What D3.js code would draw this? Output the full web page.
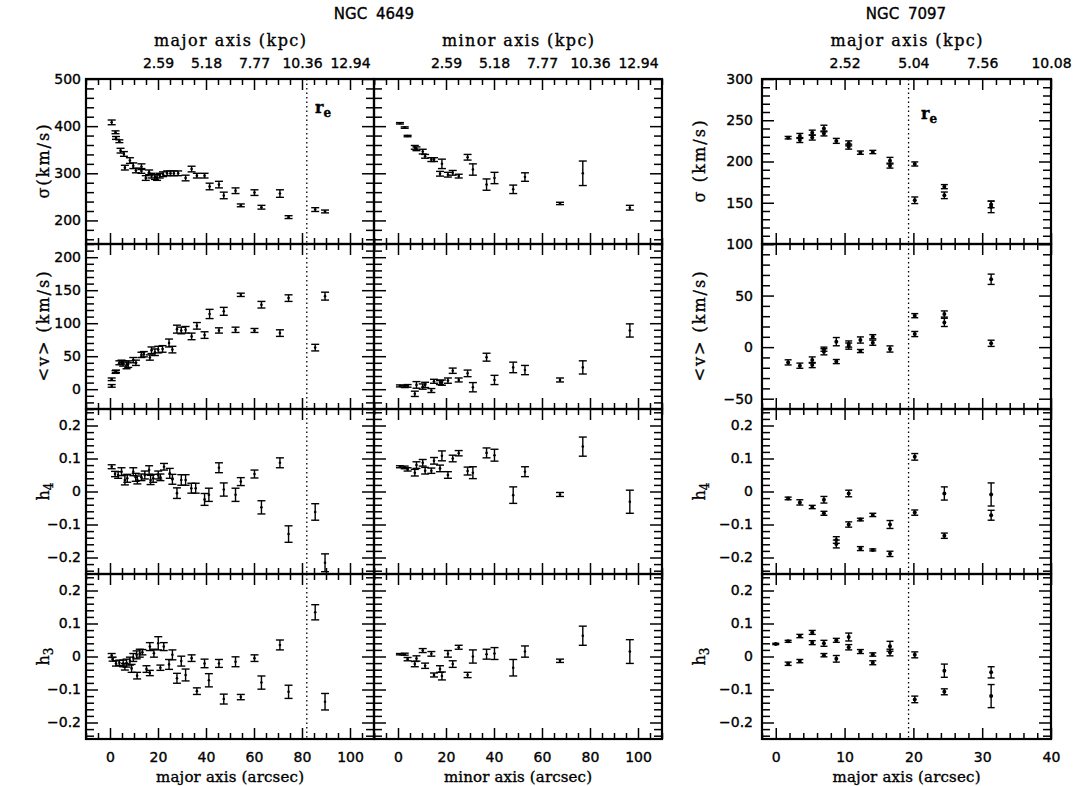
<!DOCTYPE html>
<html>
<head>
<meta charset="utf-8">
<script src="https://cdn.jsdelivr.net/npm/d3@7"></script>
<style>
body { margin: 0; background: #fff; }
text { fill: #000; stroke: #000; stroke-width: 0.35px; }
</style>
</head>
<body>
<script>
// ---- NGC 4649, major axis ----
var majSigR = [0.7, 2.3, 2.5, 3.9, 4.4, 5.8, 6.2, 8.3, 9.7, 10.8, 13.1, 13.1, 14.9, 16.3, 17.3, 18.7, 19.6, 20.7, 22.1, 23.8, 25.2, 26.6, 28.4, 31.5, 34.0, 36.2, 39.4, 41.5, 45.4, 47.4, 52.3, 54.5, 60.2, 63.1, 70.8, 74.4, 85.5, 89.6];
var majSig  = [408, 387, 375, 368, 348, 341, 312, 327, 316, 306, 314, 305, 290, 302, 295, 292, 291, 295, 298, 300, 300, 300, 300, 290, 309, 295, 295, 272, 276, 253, 263, 232, 259, 228, 257, 207, 223, 219];
var majSigE = [5, 3, 3, 3, 5, 5, 5, 6, 6, 5, 6, 5, 5, 5, 5, 5, 6, 5, 5, 5, 5, 5, 5, 6, 6, 5, 5, 7, 7, 7, 6, 3, 6, 4, 8, 3, 4, 3];

var majVR = [0.7, 0.7, 2.3, 2.5, 3.9, 4.8, 5.5, 6.9, 7.6, 9.7, 10.8, 13.1, 14.1, 16.6, 17.3, 18.7, 20.1, 21.9, 24.6, 26.0, 27.9, 29.7, 31.5, 34.0, 36.2, 39.4, 41.5, 45.4, 47.4, 52.3, 54.5, 60.2, 63.1, 70.8, 74.4, 85.5, 89.6];
var majV  = [15, 5, 26, 27, 40, 41, 39, 36, 38, 44, 40, 52, 53, 48, 59, 56, 60, 61, 70, 60, 91, 89, 90, 80, 96, 82, 114, 89, 118, 90, 143, 89, 128, 85, 138, 63, 141];
var majVE = [2, 2, 2, 2, 3, 3, 4, 5, 5, 4, 4, 4, 4, 4, 5, 5, 5, 5, 6, 5, 6, 5, 5, 5, 5, 5, 7, 4, 6, 4, 2.5, 3, 5, 5, 5, 5, 6];

var majH4R = [0.7, 2.1, 3.4, 4.8, 6.2, 7.2, 9.7, 10.7, 11.4, 13.1, 14.5, 16.3, 16.9, 18.0, 20.1, 21.0, 22.5, 24.9, 26.0, 27.9, 29.7, 31.5, 33.9, 35.7, 39.4, 41.2, 45.4, 47.4, 52.3, 54.5, 60.2, 63.1, 70.8, 74.4, 85.5, 89.6];
var majH4  = [0.075, 0.053, 0.050, 0.060, 0.035, 0.040, 0.060, 0.043, 0.035, 0.043, 0.050, 0.065, 0.035, 0.040, 0.050, 0.043, 0.075, 0.055, 0.037, -0.005, 0.035, 0.035, 0.010, 0.010, -0.024, -0.010, 0.072, 0.006, -0.010, 0.030, 0.053, -0.048, 0.087, -0.129, -0.062, -0.216];
var majH4E = [0.006, 0.008, 0.01, 0.012, 0.015, 0.012, 0.012, 0.012, 0.012, 0.01, 0.012, 0.013, 0.014, 0.012, 0.012, 0.01, 0.01, 0.015, 0.015, 0.016, 0.016, 0.016, 0.015, 0.015, 0.018, 0.02, 0.015, 0.02, 0.02, 0.012, 0.012, 0.02, 0.015, 0.025, 0.025, 0.027];

var majH3R = [0.7, 1.1, 2.5, 3.9, 5.5, 6.2, 6.9, 8.3, 9.0, 9.7, 11.1, 11.3, 12.4, 13.5, 15.2, 16.6, 16.6, 18.3, 20.1, 21.0, 22.4, 24.6, 26.0, 27.9, 29.7, 31.5, 34.0, 36.2, 39.4, 41.2, 45.4, 47.4, 52.3, 54.5, 60.2, 63.1, 70.8, 74.4, 85.5, 89.6];
var majH3  = [0.003, -0.008, -0.021, -0.019, -0.021, -0.031, -0.020, -0.014, -0.036, -0.003, 0.005, -0.058, 0.010, 0.013, -0.038, -0.050, 0.030, 0.010, 0.040, -0.034, 0.030, -0.024, 0.005, -0.066, -0.014, -0.056, -0.005, -0.105, -0.021, -0.072, -0.021, -0.129, -0.016, -0.123, -0.005, -0.079, 0.035, -0.107, 0.134, -0.137];
var majH3E = [0.006, 0.006, 0.008, 0.008, 0.01, 0.01, 0.012, 0.012, 0.012, 0.012, 0.012, 0.01, 0.012, 0.008, 0.01, 0.008, 0.012, 0.012, 0.02, 0.008, 0.012, 0.015, 0.015, 0.015, 0.015, 0.018, 0.01, 0.01, 0.013, 0.02, 0.012, 0.015, 0.015, 0.008, 0.01, 0.02, 0.015, 0.02, 0.023, 0.025];

// ---- NGC 4649, minor axis ----
var minR   = [0.8, 2.8, 4.0, 7.0, 7.7, 10.3, 11.3, 13.9, 15.0, 17.5, 18.3, 20.8, 22.8, 25.3, 29.0, 31.2, 36.9, 40.2, 48.0, 52.9, 67.5, 77.0, 96.6];
var minSig = [406, 397, 379, 355, 352, 346, 336, 329, 329, 299, 320, 297, 301, 294, 334, 308, 276, 290, 266, 292, 236, 300, 227];
var minSigE = [1.5, 1.5, 1.5, 4, 4, 5, 4, 4, 4, 5, 10, 5, 5, 4, 6, 12, 12, 12, 9, 9, 2.5, 26, 5];
var minV   = [5, 4, 5, -7, 6.5, 4, 6.5, -2, 12, 10, 10, 13, 28, 14, 24, 3, 48.5, 14, 33, 29, 14, 33, 89];
var minVE  = [1.5, 1.5, 2, 4, 5, 4, 4, 3, 3, 3, 4, 4, 4, 3, 5, 7, 6, 7, 8, 7, 3, 10, 10];
var minH4  = [0.075, 0.073, 0.067, 0.057, 0.08, 0.087, 0.063, 0.063, 0.093, 0.07, 0.108, 0.05, 0.1, 0.116, 0.062, 0.057, 0.117, 0.11, -0.011, 0.06, -0.009, 0.136, -0.031];
var minH4E = [0.003, 0.004, 0.005, 0.01, 0.01, 0.01, 0.01, 0.008, 0.01, 0.01, 0.015, 0.01, 0.01, 0.008, 0.012, 0.018, 0.015, 0.018, 0.025, 0.015, 0.006, 0.029, 0.035];
var minH3  = [0.007, 0.007, -0.008, -0.023, -0.006, 0.018, -0.028, 0.008, -0.056, -0.038, -0.059, 0.008, -0.023, 0.028, -0.056, 0.0, 0.007, 0.009, -0.034, 0.015, -0.013, 0.063, 0.015];
var minH3E = [0.002, 0.003, 0.005, 0.008, 0.008, 0.006, 0.008, 0.007, 0.006, 0.01, 0.012, 0.01, 0.01, 0.006, 0.008, 0.02, 0.015, 0.018, 0.025, 0.017, 0.005, 0.029, 0.036];

// ---- NGC 7097, major axis (null = no point) ----
var n7R    = [0, 1.8, 1.8, 3.5, 3.5, 5.3, 5.3, 7.0, 7.0, 8.8, 8.8, 10.6, 10.6, 12.3, 12.3, 14.1, 14.1, 16.6, 16.6, 20.2, 20.2, 24.5, 24.5, 31.3, 31.3];
var n7Sig  = [null, 228.9, null, 226, 231, 229, 235, 240, 234, 225, null, 222, 218, 210.7, null, 211.5, null, 201, 195, 197, 153, 169.5, 159, 148, 145];
var n7SigE = [0, 1.5, 0, 3, 3, 3, 3, 4, 3, 3, 0, 3, 3, 2, 0, 2, 0, 4, 3, 2.5, 4, 2.5, 4, 4, 7];
var n7V    = [null, -14.8, null, -18, null, -12.5, -17.4, -4.5, -2, 5.3, -14, 1, 3, 6.9, -3.8, 10.1, 4.3, -1.8, null, 30.5, 12.7, 32.1, 24, 65.8, 3.7];
var n7VE   = [0, 2.5, 0, 2.5, 0, 3, 2.5, 3, 2, 4, 2, 3, 3, 3, 1.5, 2, 2.5, 3, 0, 2, 2.5, 3, 4, 5, 3];
var n7H4   = [null, -0.021, null, -0.033, null, -0.047, null, -0.025, -0.066, -0.147, -0.159, -0.006, -0.1, -0.085, -0.173, -0.071, -0.177, -0.1, -0.189, 0.105, -0.064, -0.006, -0.134, -0.009, -0.072];
var n7H4E  = [0, 0.004, 0, 0.008, 0, 0.005, 0, 0.01, 0.006, 0.01, 0.012, 0.01, 0.008, 0.004, 0.006, 0.005, 0.003, 0.012, 0.008, 0.01, 0.008, 0.02, 0.008, 0.035, 0.015];
var n7H3   = [0.038, 0.046, -0.022, 0.062, -0.014, 0.073, 0.042, 0.04, 0.004, 0.049, -0.007, 0.059, 0.028, 0.015, null, 0.006, -0.019, 0.031, 0.012, 0.005, -0.13, -0.043, -0.107, -0.048, -0.12];
var n7H3E  = [0.002, 0.003, 0.005, 0.005, 0.005, 0.006, 0.006, 0.009, 0.005, 0.006, 0.01, 0.012, 0.008, 0.006, 0, 0.005, 0.006, 0.015, 0.01, 0.009, 0.01, 0.02, 0.009, 0.017, 0.035];

// tick labels
var kpc4649 = ['2.59', '5.18', '7.77', '10.36', '12.94'];
var kpcAt4649 = [20, 40, 60, 80, 100];
var kpc7097 = ['2.52', '5.04', '7.56', '10.08'];
var kpcAt7097 = [10, 20, 30, 40];
var re4649 = 82, re7097 = 19.3;


var top0 = 79, rowH = 165;
var numFont = 'DejaVu Sans', txtFont = 'DejaVu Serif';

var svg = d3.select('body').append('svg')
	.attr('width', 1076)
	.attr('height', 786);

// row settings: domains and tick steps
var rows = [
	{ d4649: [150, 500], d7097: [100, 300], mj4649: 100, mn4649: 20, mj7097: 50, mn7097: 10 },
	{ d4649: [-30, 220], d7097: [-60, 100], mj4649: 50, mn4649: 10, mj7097: 50, mn7097: 10 },
	{ d4649: [-0.25, 0.25], d7097: [-0.25, 0.25], mj4649: 0.1, mn4649: 0.02, mj7097: 0.1, mn7097: 0.02 },
	{ d4649: [-0.25, 0.25], d7097: [-0.25, 0.25], mj4649: 0.1, mn4649: 0.02, mj7097: 0.1, mn7097: 0.02 }
];

var panels = [
	{ x0: 86, x1: 374, dom: [-10, 110], mj: 20, mn: 5, re: re4649, pad: 5,
		data: [[majSigR, majSig, majSigE], [majVR, majV, majVE], [majH4R, majH4, majH4E], [majH3R, majH3, majH3E]] },
	{ x0: 374, x1: 662, dom: [-10, 110], mj: 20, mn: 5, re: null, pad: 5,
		data: [[minR, minSig, minSigE], [minR, minV, minVE], [minR, minH4, minH4E], [minR, minH3, minH3E]] },
	{ x0: 762, x1: 1051, dom: [-2, 40], mj: 10, mn: 2, re: re7097, pad: 9,
		data: [[n7R, n7Sig, n7SigE], [n7R, n7V, n7VE], [n7R, n7H4, n7H4E], [n7R, n7H3, n7H3E]] }
];

function steps(dom, step) {
	var a = [];
	var s = Math.ceil(dom[0] / step - 1e-6), e = Math.floor(dom[1] / step + 1e-6);
	for (var i = s; i <= e; i++) a.push(+(i * step).toFixed(6));
	return a;
};

function isMajor(v, step) {
	var q = v / step;
	return Math.abs(q - Math.round(q)) < 1e-6;
};

function tickSet(g, axis, vals, len) {
	g.call(axis.tickValues(vals).tickSize(-len).tickFormat(''));
	g.select('.domain').remove();
	g.selectAll('line').attr('stroke', '#000').attr('stroke-width', 1.5);
};

function fmt(d) {
	if (Math.abs(d) < 1e-9) return '0';
	var s = Math.abs(d) < 1 ? d3.format('.1f')(d) : d3.format('d')(d);
	return s.replace('-', '\u2212');
};

function numStyle(sel) {
	sel.style('font-family', numFont)
		.style('font-size', '14px')
		.attr('fill', '#000');
};

var majLen = 11, minLen = 6;

panels.forEach(function(p, pi) {
	var x = d3.scaleLinear().domain(p.dom).range([p.x0, p.x1]);
	var xMin = steps(p.dom, p.mn).filter(function(v) { return !isMajor(v, p.mj); }),
		xMaj = steps(p.dom, p.mj);

	rows.forEach(function(r, ri) {
		var yt = top0 + ri * rowH, yb = yt + rowH;
		var dom = pi == 2 ? r.d7097 : r.d4649,
			mj = pi == 2 ? r.mj7097 : r.mj4649,
			mn = pi == 2 ? r.mn7097 : r.mn4649;
		var y = d3.scaleLinear().domain(dom).range([yb, yt]);
		var yMin = steps(dom, mn).filter(function(v) { return !isMajor(v, mj); }),
			yMaj = steps(dom, mj);
		var w = p.x1 - p.x0;

		var g = svg.append('g');

		// inward ticks on all four sides
		tickSet(g.append('g').attr('transform', 'translate(0,' + yb + ')'), d3.axisBottom(x), xMin, minLen);
		tickSet(g.append('g').attr('transform', 'translate(0,' + yb + ')'), d3.axisBottom(x), xMaj, majLen);
		tickSet(g.append('g').attr('transform', 'translate(0,' + yt + ')'), d3.axisTop(x), xMin, minLen);
		tickSet(g.append('g').attr('transform', 'translate(0,' + yt + ')'), d3.axisTop(x), xMaj, majLen);
		tickSet(g.append('g').attr('transform', 'translate(' + p.x0 + ',0)'), d3.axisLeft(y), yMin, minLen + 2);
		tickSet(g.append('g').attr('transform', 'translate(' + p.x0 + ',0)'), d3.axisLeft(y), yMaj, majLen + 1);
		tickSet(g.append('g').attr('transform', 'translate(' + p.x1 + ',0)'), d3.axisRight(y), yMin, minLen + 2);
		tickSet(g.append('g').attr('transform', 'translate(' + p.x1 + ',0)'), d3.axisRight(y), yMaj, majLen + 1);

		g.append('rect')
			.attr('x', p.x0).attr('y', yt)
			.attr('width', w).attr('height', rowH)
			.attr('fill', 'none')
			.attr('stroke', '#000')
			.attr('stroke-width', 2.2);

		// r_e dotted line
		if (p.re != null) {
			g.append('line')
				.attr('x1', x(p.re)).attr('x2', x(p.re))
				.attr('y1', yt).attr('y2', yb)
				.attr('stroke', '#000')
				.attr('stroke-width', 1.3)
				.attr('stroke-dasharray', '1.5,3');
		}

		// y tick labels (left panels only)
		if (pi != 1) {
			var labs = yMaj.slice();
			if (pi == 2 && ri == 1) labs = labs.filter(function(v) { return v < 100; });
			var ya = d3.axisLeft(y).tickValues(labs).tickSize(0).tickPadding(p.pad).tickFormat(fmt);
			var gl = g.append('g').attr('transform', 'translate(' + p.x0 + ',0)').call(ya);
			gl.select('.domain').remove();
			numStyle(gl.selectAll('text'));
		}

		// points with error bars
		var dd = p.data[ri];
		var pts = [];
		for (var i = 0; i < dd[0].length; i++) {
			if (dd[1][i] != null) pts.push({ r: dd[0][i], v: dd[1][i], e: dd[2][i] });
		}
		var cap = pi == 2 ? 3.5 : 4;
		var pg = g.append('g').attr('stroke', '#000').attr('stroke-width', 1.4);
		pts.forEach(function(d) {
			var cx = x(d.r), y0 = y(d.v - d.e), y1 = y(d.v + d.e);
			pg.append('line').attr('x1', cx).attr('x2', cx).attr('y1', y0).attr('y2', y1);
			pg.append('line').attr('x1', cx - cap).attr('x2', cx + cap).attr('y1', y0).attr('y2', y0);
			pg.append('line').attr('x1', cx - cap).attr('x2', cx + cap).attr('y1', y1).attr('y2', y1);
		});
		g.selectAll('circle.pt')
			.data(pts)
			.enter().append('circle')
				.attr('class', 'pt')
				.attr('cx', function(d) { return x(d.r); })
				.attr('cy', function(d) { return y(d.v); })
				.attr('r', pi == 2 ? 2 : 1.3)
				.attr('fill', '#000');

		// bottom x tick labels
		if (ri == 3) {
			var xa = d3.axisBottom(x).tickValues(xMaj.filter(function(v) { return v >= 0; })).tickSize(0).tickPadding(13).tickFormat(d3.format('d'));
			var gx = g.append('g').attr('transform', 'translate(0,' + yb + ')').call(xa);
			gx.select('.domain').remove();
			numStyle(gx.selectAll('text'));
		}
	});

	// top kpc labels
	var kAt = pi == 2 ? kpcAt7097 : kpcAt4649,
		kLab = pi == 2 ? kpc7097 : kpc4649;
	var ta = d3.axisTop(x).tickValues(kAt).tickSize(0).tickPadding(11)
		.tickFormat(function(d, i) { return kLab[i]; });
	var gt = svg.append('g').attr('transform', 'translate(0,' + top0 + ')').call(ta);
	gt.select('.domain').remove();
	numStyle(gt.selectAll('text'));

	var cx = (p.x0 + p.x1) / 2;
	svg.append('text')
		.attr('x', cx).attr('y', 46)
		.attr('text-anchor', 'middle')
		.attr('textLength', 152)
		.attr('lengthAdjust', 'spacing')
		.style('font-family', txtFont)
		.style('font-size', '16px')
		.text(pi == 1 ? 'minor axis (kpc)' : 'major axis (kpc)');

	svg.append('text')
		.attr('x', cx).attr('y', 782)
		.attr('text-anchor', 'middle')
		.attr('textLength', 148)
		.attr('lengthAdjust', 'spacing')
		.style('font-family', txtFont)
		.style('font-size', '15px')
		.text(pi == 1 ? 'minor axis (arcsec)' : 'major axis (arcsec)');
});

// titles
svg.append('text')
	.attr('x', 374).attr('y', 19)
	.attr('text-anchor', 'middle')
	.style('font-family', numFont)
	.style('font-size', '15px')
	.style('word-spacing', '4px')
	.text('NGC 4649');

svg.append('text')
	.attr('x', 906).attr('y', 19)
	.attr('text-anchor', 'middle')
	.style('font-family', numFont)
	.style('font-size', '15px')
	.style('word-spacing', '4px')
	.text('NGC 7097');

// r_e labels
function reLabel(xp, yp) {
	var t = svg.append('text')
		.attr('x', xp).attr('y', yp)
		.style('font-family', txtFont)
		.style('font-size', '16px')
		.style('font-weight', 'bold');
	t.append('tspan').text('r');
	t.append('tspan').attr('dy', 4).style('font-size', '12px').text('e');
};
reLabel(315, 113);
reLabel(921, 119);

// y axis labels
var yLabs = [
	{ x: 49, row: 0, main: '\u03c3(km/s)', len: 74 },
	{ x: 49, row: 1, main: '<v> (km/s)', len: 110 },
	{ x: 49, row: 2, main: 'h', sub: '4' },
	{ x: 49, row: 3, main: 'h', sub: '3' },
	{ x: 705, row: 0, main: '\u03c3 (km/s)', len: 82 },
	{ x: 705, row: 1, main: '<v> (km/s)', len: 110 },
	{ x: 705, row: 2, main: 'h', sub: '4' },
	{ x: 705, row: 3, main: 'h', sub: '3' }
];
yLabs.forEach(function(l) {
	var yc = top0 + l.row * rowH + rowH / 2;
	var t = svg.append('text')
		.attr('transform', 'translate(' + l.x + ',' + yc + ') rotate(-90)')
		.attr('text-anchor', 'middle')
		.style('font-family', txtFont)
		.style('font-size', '16px');
	if (l.len) t.attr('textLength', l.len).attr('lengthAdjust', 'spacing');
	t.append('tspan').text(l.main);
	if (l.sub) t.append('tspan').attr('dy', 4).style('font-size', '12px').text(l.sub);
});
</script>
</body>
</html>
